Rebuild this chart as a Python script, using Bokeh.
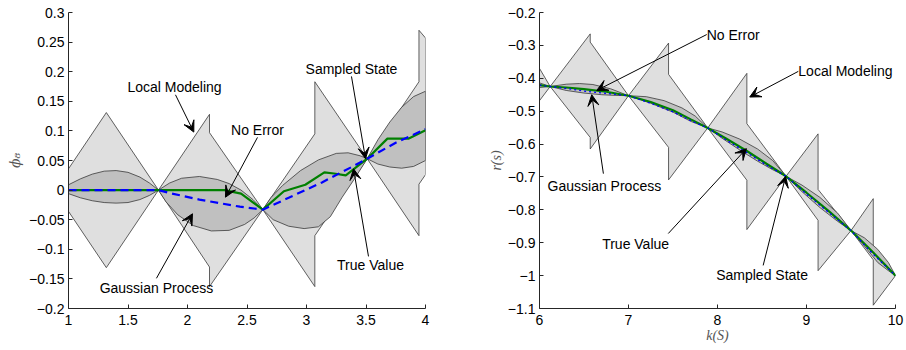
from bokeh.plotting import figure
from bokeh.layouts import row
from bokeh.models import Range1d, FixedTicker, Label, Arrow, VeeHead
from bokeh.embed import file_html
from bokeh.resources import INLINE

# ---------------- Left panel data ----------------
lm_x_l = [1.0, 1.318, 1.756, 2.185, 2.185, 2.633, 3.07, 3.07, 3.51, 3.945, 3.945, 4.0]
lm_top_y_l = [0.036, 0.131, 0.0, 0.128, 0.097, -0.033, 0.095, 0.183, 0.053, 0.183, 0.27, 0.257]
lm_bot_y_l = [-0.036, -0.131, 0.0, -0.13, -0.163, -0.033, -0.163, -0.077, 0.053, -0.077, 0.01, 0.026]

gp_up_x_l = [1.0, 1.1, 1.2, 1.3, 1.4, 1.5, 1.6, 1.68, 1.756, 1.85, 1.95, 2.1, 2.25, 2.35, 2.45, 2.55,
             2.633, 2.7, 2.8, 2.95, 3.1, 3.25, 3.35, 3.45, 3.51, 3.6, 3.7, 3.8, 3.9, 4.0]
gp_up_y_l = [0.009, 0.019, 0.027, 0.032, 0.033, 0.030, 0.022, 0.012, 0.0, 0.012, 0.020, 0.023, 0.018, 0.011,
             0.0, -0.016, -0.033, -0.013, 0.008, 0.033, 0.051, 0.062, 0.063, 0.058, 0.053, 0.085, 0.115,
             0.140, 0.158, 0.167]
gp_lo_x_l = [1.0, 1.1, 1.2, 1.3, 1.4, 1.5, 1.6, 1.68, 1.756, 1.82, 1.92, 2.05, 2.2, 2.35, 2.48, 2.56,
             2.633, 2.72, 2.85, 2.98, 3.1, 3.2, 3.3, 3.4, 3.51, 3.6, 3.7, 3.8, 3.9, 4.0]
gp_lo_y_l = [-0.006, -0.013, -0.018, -0.021, -0.022, -0.021, -0.016, -0.009, 0.0, -0.02, -0.042, -0.06,
             -0.069, -0.068, -0.058, -0.047, -0.033, -0.05, -0.061, -0.065, -0.062, -0.045, -0.012, 0.018,
             0.053, 0.044, 0.039, 0.037, 0.040, 0.050]

tv_x_l = [1.0, 1.756, 2.31, 2.45, 2.633, 2.81, 2.99, 3.15, 3.23, 3.33, 3.51, 3.68, 3.86, 4.0]
tv_y_l = [0.0, 0.0, 0.0, -0.006, -0.033, -0.002, 0.009, 0.030, 0.028, 0.025, 0.053, 0.087, 0.087, 0.101]

gpm_x_l = [1.0, 1.756, 1.85, 2.1, 2.44, 2.633, 2.85, 3.13, 3.38, 3.51, 3.75, 4.0]
gpm_y_l = [0.0, 0.0, -0.005, -0.016, -0.028, -0.033, -0.013, 0.013, 0.039, 0.053, 0.080, 0.103]

x_ticks_l = [1, 1.5, 2, 2.5, 3, 3.5, 4]
x_labels_l = ["1", "1.5", "2", "2.5", "3", "3.5", "4"]
y_ticks_l = [-0.2, -0.15, -0.1, -0.05, 0, 0.05, 0.1, 0.15, 0.2, 0.25, 0.3]
y_labels_l = ["\u22120.2", "\u22120.15", "\u22120.1", "\u22120.05", "0", "0.05", "0.1", "0.15", "0.2", "0.25", "0.3"]

# ---------------- Right panel data ----------------
lm_x_r = [6.0, 6.12, 6.57, 6.57, 7.0, 7.45, 7.45, 7.89, 8.33, 8.33, 8.77, 9.13, 9.13, 9.5, 9.75, 9.75, 10.0]
lm_top_y_r = [-0.37, -0.425, -0.265, -0.29, -0.453, -0.293, -0.388, -0.551, -0.385, -0.538, -0.698,
              -0.569, -0.738, -0.863, -0.766, -0.911, -1.0]
lm_bot_y_r = [-0.468, -0.425, -0.58, -0.615, -0.453, -0.61, -0.709, -0.551, -0.71, -0.86, -0.698,
              -0.832, -0.985, -0.863, -0.952, -1.09, -1.0]

gp_up_x_r = [6.0, 6.12, 6.3, 6.45, 6.6, 6.8, 7.0, 7.2, 7.4, 7.6, 7.75, 7.89, 8.05, 8.25, 8.45, 8.62, 8.77,
             8.95, 9.15, 9.35, 9.5, 9.65, 9.8, 9.92, 10.0]
gp_up_y_r = [-0.414, -0.425, -0.418, -0.416, -0.419, -0.432, -0.453, -0.456, -0.468, -0.49, -0.515, -0.551,
             -0.563, -0.585, -0.615, -0.65, -0.698, -0.725, -0.762, -0.81, -0.863, -0.885, -0.92, -0.96, -1.0]
gp_lo_x_r = [6.0, 6.12, 6.3, 6.5, 6.7, 6.85, 7.0, 7.25, 7.5, 7.7, 7.89, 8.05, 8.25, 8.45, 8.62, 8.77,
             8.95, 9.15, 9.35, 9.5, 9.65, 9.8, 9.92, 10.0]
gp_lo_y_r = [-0.428, -0.425, -0.437, -0.445, -0.45, -0.452, -0.453, -0.476, -0.503, -0.531, -0.551, -0.582,
             -0.618, -0.652, -0.678, -0.698, -0.745, -0.793, -0.835, -0.863, -0.91, -0.96, -0.985, -1.0]

tv_x_r = [6.0, 6.12, 6.3, 6.5, 6.75, 7.0, 7.25, 7.5, 7.7, 7.89, 8.1, 8.33, 8.55, 8.77, 9.0, 9.25, 9.5, 9.75, 10.0]
tv_y_r = [-0.421, -0.425, -0.428, -0.433, -0.441, -0.453, -0.472, -0.497, -0.525, -0.551, -0.584, -0.621,
          -0.66, -0.698, -0.748, -0.804, -0.863, -0.93, -1.0]
gpm_y_r = [-0.421, -0.425, -0.431, -0.439, -0.446, -0.453, -0.476, -0.502, -0.529, -0.551, -0.588, -0.626,
           -0.664, -0.698, -0.752, -0.808, -0.863, -0.935, -1.0]

x_ticks_r = [6, 7, 8, 9, 10]
x_labels_r = ["6", "7", "8", "9", "10"]
y_ticks_r = [-1.1, -1.0, -0.9, -0.8, -0.7, -0.6, -0.5, -0.4, -0.3, -0.2]
y_labels_r = ["\u22121.1", "\u22121", "\u22120.9", "\u22120.8", "\u22120.7", "\u22120.6", "\u22120.5",
              "\u22120.4", "\u22120.3", "\u22120.2"]

FONT = "Liberation Sans"
LIGHT = "#dfdfdf"
DARK = "#c0c0c0"
EDGE = "#3a3a3a"


def style(p, xt, xl, yt, yl):
    p.outline_line_color = None
    p.xgrid.visible = False
    p.ygrid.visible = False
    p.background_fill_color = "white"
    p.border_fill_color = "white"
    for ax in (p.xaxis[0], p.yaxis[0]):
        ax.axis_line_color = "#262626"
        ax.axis_line_width = 1
        ax.major_tick_line_color = "#262626"
        ax.major_tick_in = 4
        ax.major_tick_out = 0
        ax.minor_tick_line_color = None
        ax.major_label_text_font = FONT
        ax.major_label_text_font_size = "14px"
        ax.major_label_text_color = "black"
    p.xaxis[0].ticker = FixedTicker(ticks=xt)
    p.xaxis[0].major_label_overrides = {t: s for t, s in zip(xt, xl)}
    p.yaxis[0].ticker = FixedTicker(ticks=yt)
    p.yaxis[0].major_label_overrides = {t: s for t, s in zip(yt, yl)}
    p.xaxis[0].major_label_standoff = 6
    p.yaxis[0].major_label_standoff = 4


def draw(p, lm_x, lm_top, lm_bot, up_x, up_y, lo_x, lo_y, tv_x, tv_y, m_x, m_y, dash, mw):
    p.patch(lm_x + lm_x[::-1], lm_top + lm_bot[::-1], fill_color=LIGHT, line_color=EDGE, line_width=0.8)
    p.patch(up_x + lo_x[::-1], up_y + lo_y[::-1], fill_color=DARK, line_color=EDGE, line_width=0.8)
    p.line(tv_x, tv_y, line_color="#008000", line_width=2.2)
    p.line(m_x, m_y, line_color="#0000ff", line_width=mw, line_dash=dash)


def note(p, x, y, text, align="center"):
    p.add_layout(Label(x=x, y=y, text=text, text_align=align, text_baseline="middle",
                       text_font=FONT, text_font_size="14px", text_color="black"))


def arrow(p, xs, ys, xe, ye):
    p.add_layout(Arrow(x_start=xs, y_start=ys, x_end=xe, y_end=ye, line_width=1, line_color="black",
                       end=VeeHead(size=11, fill_color="black", line_color="black", line_width=1)))


H = 350
p1 = figure(width=456, height=H, x_range=Range1d(1, 4), y_range=Range1d(-0.2, 0.3),
            output_backend="svg", toolbar_location=None,
            min_border_left=68, min_border_right=31, min_border_top=12, min_border_bottom=42)
style(p1, x_ticks_l, x_labels_l, y_ticks_l, y_labels_l)
p1.yaxis[0].axis_label = "\u03d5\u2088"
p1.yaxis[0].axis_label_text_font = "DejaVu Serif"
p1.yaxis[0].axis_label_text_font_style = "italic"
p1.yaxis[0].axis_label_text_font_size = "14px"
p1.yaxis[0].axis_label_text_color = "#555555"
p1.yaxis[0].axis_label_standoff = 3
draw(p1, lm_x_l, lm_top_y_l, lm_bot_y_l, gp_up_x_l, gp_up_y_l, gp_lo_x_l, gp_lo_y_l,
     tv_x_l, tv_y_l, gpm_x_l, gpm_y_l, "8 5", 2.2)

note(p1, 1.891, 0.175, "Local Modeling")
arrow(p1, 1.899, 0.161, 2.053, 0.098)
note(p1, 2.588, 0.102, "No Error")
arrow(p1, 2.588, 0.089, 2.319, -0.012)
note(p1, 3.378, 0.205, "Sampled State")
arrow(p1, 3.378, 0.192, 3.496, 0.053)
note(p1, 3.538, -0.126, "True Value")
arrow(p1, 3.521, -0.112, 3.395, 0.036)
note(p1, 1.739, -0.165, "Gaussian Process")
arrow(p1, 1.739, -0.149, 2.042, -0.040)

p2 = figure(width=450, height=H, x_range=Range1d(6, 10), y_range=Range1d(-1.1, -0.2),
            output_backend="svg", toolbar_location=None,
            min_border_left=83, min_border_right=11, min_border_top=12, min_border_bottom=42)
style(p2, x_ticks_r, x_labels_r, y_ticks_r, y_labels_r)
p2.yaxis[0].axis_label = "r(s)"
p2.xaxis[0].axis_label = "k(S)"
for ax in (p2.xaxis[0], p2.yaxis[0]):
    ax.axis_label_text_font = "Liberation Serif"
    ax.axis_label_text_font_style = "italic"
    ax.axis_label_text_font_size = "14px"
    ax.axis_label_text_color = "#555555"
p2.yaxis[0].axis_label_standoff = 1
p2.xaxis[0].axis_label_standoff = 0
draw(p2, lm_x_r, lm_top_y_r, lm_bot_y_r, gp_up_x_r, gp_up_y_r, gp_lo_x_r, gp_lo_y_r,
     tv_x_r, tv_y_r, tv_x_r, gpm_y_r, "2 3", 1.3)

note(p2, 7.879, -0.267, "No Error", align="left")
arrow(p2, 7.879, -0.267, 6.643, -0.437)
note(p2, 8.908, -0.379, "Local Modeling", align="left")
arrow(p2, 8.908, -0.379, 8.362, -0.457)
note(p2, 6.729, -0.728, "Gaussian Process")
arrow(p2, 6.718, -0.690, 6.587, -0.450)
note(p2, 7.080, -0.905, "True Value")
arrow(p2, 7.447, -0.872, 8.325, -0.614)
note(p2, 8.501, -0.997, "Sampled State")
arrow(p2, 8.513, -0.969, 8.766, -0.698)

layout = row(p1, p2)
open("out.html", "w").write(file_html(layout, INLINE))
